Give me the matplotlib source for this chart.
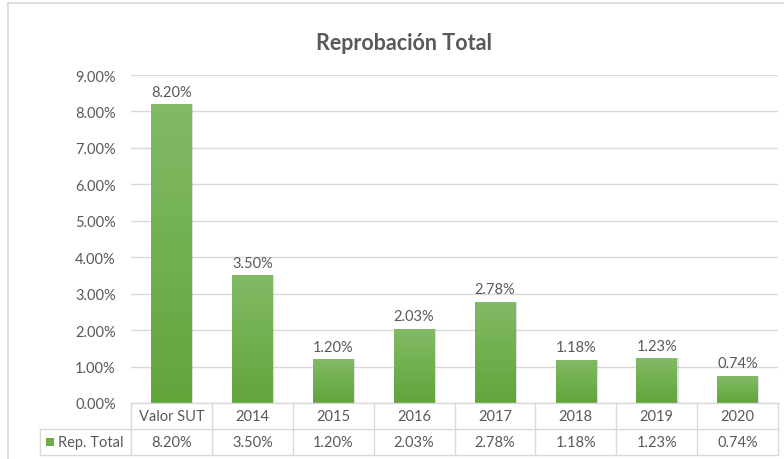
import numpy as np
import matplotlib.pyplot as plt
from matplotlib.patches import Rectangle
from matplotlib.lines import Line2D
from matplotlib.colors import LinearSegmentedColormap

# data
categories = ["Valor SUT", "2014", "2015", "2016", "2017", "2018", "2019", "2020"]
values = [8.20, 3.50, 1.20, 2.03, 2.78, 1.18, 1.23, 0.74]
series_name = "Rep. Total"
yticks = [0, 1, 2, 3, 4, 5, 6, 7, 8, 9]

TXT = "#595959"
GRID = "#D9D9D9"
TOP = "#82BA66"
BOT = "#62A53B"
FONT = "Lato"

plt.rcParams["font.family"] = [FONT, "DejaVu Sans"]

W, H = 784, 460
fig = plt.figure(figsize=(W / 100, H / 100), dpi=100)

# outer chart frame (only left and top visible in the crop)
fig.add_artist(Line2D([8 / W, 8 / W], [0, 1 - 4 / H], color=GRID, lw=1.2))
fig.add_artist(Line2D([8 / W, 1], [1 - 4 / H, 1 - 4 / H], color=GRID, lw=1.2))

x0, x1 = 131, 778
y_bot, y_top = 404, 76
ax = fig.add_axes([x0 / W, (H - y_bot) / H, (x1 - x0) / W, (y_bot - y_top) / H])

x = np.arange(len(categories))

for t in yticks:
    ax.axhline(t, color=GRID, lw=1.0, zorder=0)

# gradient for bars
grad = np.linspace(0, 1, 256).reshape(-1, 1)
cmap = LinearSegmentedColormap.from_list("g", [BOT, TOP])

bars = ax.bar(x, values, width=0.5, color="none", edgecolor="none", zorder=2)
for b, v in zip(bars, values):
    bx, bw = b.get_x(), b.get_width()
    # soft shadow
    ax.add_patch(Rectangle((bx + 0.02, 0), bw, v, color="#000000", alpha=0.12, lw=0, zorder=1))
    im = ax.imshow(grad, cmap=cmap, extent=(bx, bx + bw, 0, v), origin="lower",
                   aspect="auto", zorder=2)
    im.set_clip_path(b)
    ax.annotate(f"{v:.2f}%", (bx + bw / 2, v), xytext=(0, 4),
                textcoords="offset points", ha="center", va="bottom",
                fontsize=10.5, color=TXT)
ax.set_xlim(-0.5, len(categories) - 0.5)
ax.set_ylim(0, 9)

ax.set_yticks(yticks)
ax.set_yticklabels([f"{t:.2f}%" for t in yticks], color=TXT, fontsize=10.5)
ax.tick_params(axis="y", length=0, pad=11)
ax.set_xticks([])
for s in ax.spines.values():
    s.set_visible(False)

# data table below the plot
row = 26 / (y_bot - y_top)
tbl = dict(color=GRID, lw=1.0, clip_on=False, zorder=3)
xl = -0.5
xr = len(categories) - 0.5
legend_left = xl - (x0 - 40) / ((x1 - x0) / len(categories))
tr = ax.get_xaxis_transform()
ax.plot([xl, xr], [0, 0], transform=tr, **tbl)
ax.plot([legend_left, xr], [-row, -row], transform=tr, **tbl)
ax.plot([legend_left, xr], [-2 * row, -2 * row], transform=tr, **tbl)
ax.plot([legend_left, legend_left], [-row, -2 * row], transform=tr, **tbl)
for i in range(len(categories) + 1):
    ax.plot([i - 0.5, i - 0.5], [0, -2 * row], transform=tr, **tbl)

for i, (c, v) in enumerate(zip(categories, values)):
    ax.text(i, -row / 2, c, transform=tr, ha="center", va="center",
            fontsize=10.5, color=TXT)
    ax.text(i, -1.5 * row, f"{v:.2f}%", transform=tr, ha="center",
            va="center", fontsize=10.5, color=TXT)

# legend key in the table
fig.add_artist(Rectangle((46 / W, (H - 447) / H), 8 / W, 8 / H, color="#70AD47", lw=0))
fig.text(58 / W, (H - 443) / H, series_name, ha="left", va="center", fontsize=10.5, color=TXT)

fig.text(404 / W, (H - 44) / H, "Reprobación Total", ha="center", va="center",
         fontsize=15.5, fontweight="bold", color=TXT)

fig.savefig("out.png", dpi=100)
